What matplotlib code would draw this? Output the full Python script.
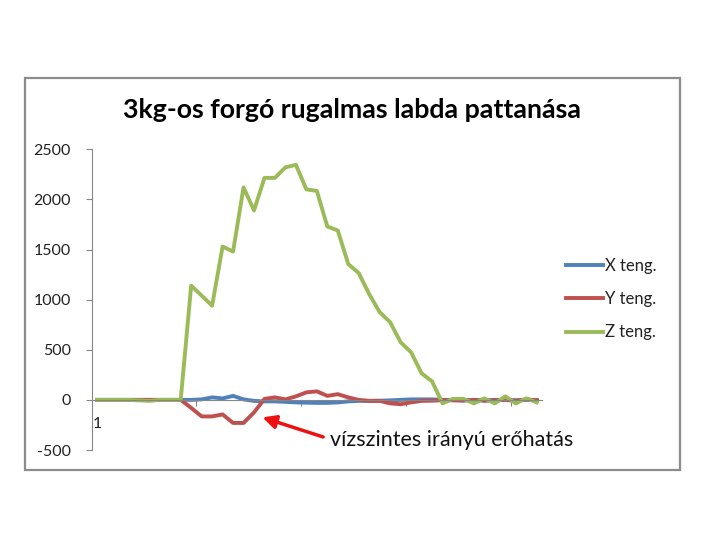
import numpy as np
import matplotlib.pyplot as plt
from matplotlib.patches import Rectangle

plt.rcParams['font.family'] = ['Lato', 'DejaVu Sans']
plt.rcParams['axes.unicode_minus'] = False

# measurements, one sample per category (1..43)
categories = list(range(1, 44))
x_teng = [0, 0, 0, 0, 0, 0, 0, 0, 0, 0, 5, 25, 15, 40, 5, -10, -15, -15, -20, -25,
          -28, -30, -30, -25, -15, -10, -10, -8, -5, 0, 5, 5, 5, 0, 0, -3, 0, -3,
          0, 0, -3, 0, 0]
y_teng = [0, 0, 0, 0, 0, 0, 0, 0, 0, -80, -165, -165, -145, -230, -230, -125, 10,
          25, 5, 35, 75, 85, 40, 57, 25, 0, -10, -10, -35, -43, -25, -10, -8, -3,
          -5, -8, 0, -10, -5, 0, -10, 5, -5]
z_teng = [0, 0, 0, 0, -5, -10, 0, 0, 0, 1140, 1040, 940, 1530, 1480, 2120, 1890,
          2215, 2215, 2320, 2345, 2100, 2085, 1730, 1690, 1355, 1265, 1055, 875,
          775, 575, 475, 265, 185, -35, 10, 10, -35, 15, -35, 35, -35, 15, -25]
series_names = ['X teng.', 'Y teng.', 'Z teng.']
colors = ['#4F81BD', '#C0504D', '#9BBB59']

title = '3kg-os forgó rugalmas labda pattanása'
note = 'vízszintes irányú erőhatás'

fig = plt.figure(figsize=(7.2, 5.4), dpi=100)
# outer chart border
fig.patches.append(Rectangle((25 / 720, 1 - 470 / 540), 655 / 720, 392 / 540,
                             transform=fig.transFigure, fill=False,
                             edgecolor='#8c8c8c', linewidth=1.6))

ax = fig.add_axes([91.7 / 720, 1 - 450 / 540, (542 - 91.7) / 720, (450 - 149.3) / 540])
xs = np.arange(len(categories))
lines = []
for vals, name, col in zip([x_teng, y_teng, z_teng], series_names, colors):
    ln, = ax.plot(xs, vals, color=col, linewidth=2.8, label=name, solid_joinstyle='round')
    lines.append(ln)

ax.set_xlim(-0.5, len(categories) - 0.5)
ax.set_ylim(-500, 2500)
ax.set_yticks(np.arange(-500, 2501, 500))
ax.tick_params(axis='y', direction='out', length=4, width=0.8, color='#868686',
               labelsize=11.5, pad=11, labelcolor='#222222')

# category axis crosses at zero
for s in ['top', 'right']:
    ax.spines[s].set_visible(False)
ax.spines['left'].set_color('#868686')
ax.spines['bottom'].set_position(('data', 0))
ax.spines['bottom'].set_color('#868686')
ax.set_xticks(np.arange(9.5, len(categories), 10))
ax.set_xticklabels([])
ax.tick_params(axis='x', which='major', direction='out', length=4, width=0.8, color='#868686')
ax.set_xticks([0], minor=True)
ax.set_xticklabels([str(categories[0])], minor=True)
ax.tick_params(axis='x', which='minor', length=0, labelsize=11.5, pad=12, labelcolor='#222222')

fig.text(352 / 720, 1 - 110 / 540, title, ha='center', va='center',
         fontsize=19.3, fontweight='bold')

fig.legend(handles=lines, loc='center left', bbox_to_anchor=(566 / 720, 1 - 299 / 540),
           frameon=False, fontsize=12, handlelength=2.2, handletextpad=0.15,
           labelspacing=1.05, borderpad=0, borderaxespad=0, labelcolor='#222222')

ax.annotate('', xy=(15.8, -175), xytext=(21.6, -370), annotation_clip=False,
            arrowprops=dict(arrowstyle='-|>,head_length=0.8,head_width=0.4',
                            color='#ee1111', linewidth=2.5, shrinkA=0, shrinkB=0))
ax.text(22.3, -400, note, ha='left', va='center', fontsize=15.5, color='#111111')

fig.savefig('out.png', dpi=100)
